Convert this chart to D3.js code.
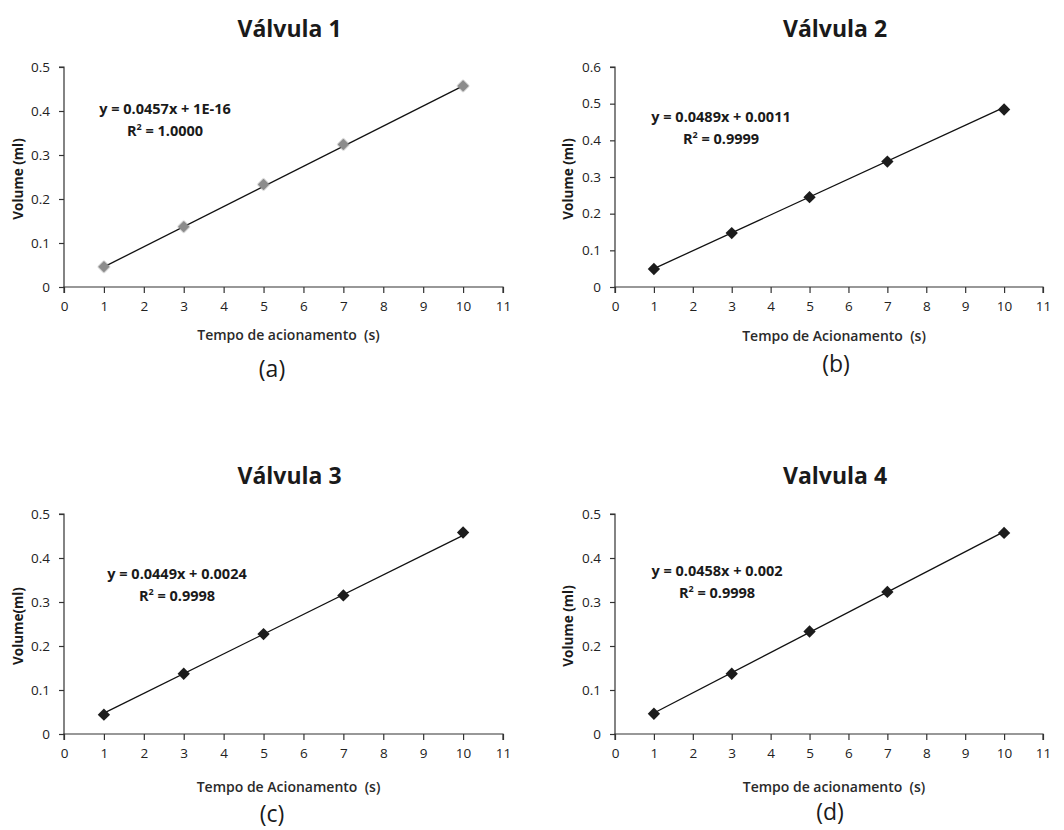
<!DOCTYPE html>
<html>
<head>
<meta charset="utf-8">
<script src="https://cdn.jsdelivr.net/npm/d3@7"></script>
<style>
  html, body { margin: 0; padding: 0; background: #fff; }
  svg { display: block; font-family: "Open Sans", Lato, sans-serif; }
</style>
</head>
<body>
<script>
// Calibration data: actuation time (s) vs dispensed volume (ml) for four valves
const times = [1, 3, 5, 7, 10];
const volume1 = [0.046, 0.137, 0.233, 0.324, 0.457];
const volume2 = [0.049, 0.147, 0.245, 0.342, 0.484];
const volume3 = [0.044, 0.137, 0.227, 0.315, 0.458];
const volume4 = [0.046, 0.137, 0.233, 0.323, 0.457];

const titles = ["Válvula 1", "Válvula 2", "Válvula 3", "Valvula 4"];
const xTitles = ["Tempo de acionamento  (s)", "Tempo de Acionamento  (s)", "Tempo de Acionamento  (s)", "Tempo de acionamento  (s)"];
const yTitles = ["Volume (ml)", "Volume (ml)", "Volume(ml)", "Volume (ml)"];
const tags = ["(a)", "(b)", "(c)", "(d)"];

// Linear trendline coefficients and R² as reported
const slopes = [0.0457, 0.0489, 0.0449, 0.0458];
const intercepts = [1e-16, 0.0011, 0.0024, 0.002];
const equations = ["y = 0.0457x + 1E-16", "y = 0.0489x + 0.0011", "y = 0.0449x + 0.0024", "y = 0.0458x + 0.002"];
const rSquared = ["1.0000", "0.9999", "0.9998", "0.9998"];

const xTicks = [0, 1, 2, 3, 4, 5, 6, 7, 8, 9, 10, 11];
const yMaxima = [0.5, 0.6, 0.5, 0.5];

const volumes = [volume1, volume2, volume3, volume4];
const markerColors = ["#8c8c8c", "#1c1c1c", "#1c1c1c", "#1c1c1c"];

// Panel geometry (plot area and text anchors)
const layout = [
  { left: 64,  right: 503,  top: 67,  bottom: 287, titleY: 37,  eqX: 165, eqY: 114, yTitleX: 18,  xTitleY: 340, tagX: 272, tagY: 377 },
  { left: 615, right: 1043, top: 67,  bottom: 287, titleY: 37,  eqX: 721, eqY: 122, yTitleX: 568, xTitleY: 341, tagX: 836, tagY: 372 },
  { left: 64,  right: 503,  top: 514, bottom: 734, titleY: 484, eqX: 177, eqY: 579, yTitleX: 18,  xTitleY: 792, tagX: 272, tagY: 822 },
  { left: 615, right: 1043, top: 514, bottom: 734, titleY: 484, eqX: 717, eqY: 576, yTitleX: 568, xTitleY: 792, tagX: 830, tagY: 820 }
];

const svg = d3.select("body").append("svg")
  .attr("width", 1064).attr("height", 830);
svg.append("rect").attr("width", 1064).attr("height", 830).attr("fill", "#fff");

const defs = svg.append("defs");
defs.append("filter").attr("id", "soft")
  .append("feGaussianBlur").attr("stdDeviation", 0.6);

layout.forEach((L, i) => {
  const x = d3.scaleLinear().domain([0, 11]).range([L.left, L.right]);
  const y = d3.scaleLinear().domain([0, yMaxima[i]]).range([L.bottom, L.top]);
  const g = svg.append("g");
  const cx = (L.left + L.right) / 2;

  // Title
  g.append("text")
    .attr("x", cx + 6).attr("y", L.titleY)
    .attr("text-anchor", "middle")
    .attr("font-size", 23).attr("font-weight", 700).attr("fill", "#1a1a1a")
    .text(titles[i]);

  // Axes
  const xAxis = d3.axisBottom(x).tickValues(xTicks).tickSize(6).tickPadding(8).tickFormat(d3.format("d"));
  const yAxis = d3.axisLeft(y).ticks(yMaxima[i] * 10).tickSize(5).tickPadding(9)
    .tickFormat(d => d === 0 ? "0" : d3.format(".1f")(d));

  const gx = g.append("g").attr("transform", `translate(0,${L.bottom})`).call(xAxis);
  const gy = g.append("g").attr("transform", `translate(${L.left},0)`).call(yAxis);
  [gx, gy].forEach(a => {
    a.select(".domain").attr("stroke", "#333").attr("stroke-width", 1.2);
    a.selectAll(".tick line").attr("stroke", "#333").attr("stroke-width", 1.2);
    a.selectAll(".tick text").attr("font-size", 13.5).attr("fill", "#222")
      .attr("font-family", "\"Open Sans\", sans-serif");
  });
  gy.select(".domain").attr("d", `M-5,${L.top}H0V${L.bottom}`);
  gx.select(".domain").attr("d", `M${L.left},6V0H${L.right}V6`);

  // Axis titles
  g.append("text")
    .attr("transform", `translate(${L.yTitleX},${(L.top + L.bottom) / 2 + 2}) rotate(-90)`)
    .attr("text-anchor", "middle").attr("dy", "0.35em")
    .attr("font-size", 13.5).attr("font-weight", 700).attr("fill", "#1a1a1a")
    .text(yTitles[i]);

  g.append("text")
    .attr("x", (x(0) + x(11)) / 2 + 5).attr("y", L.xTitleY)
    .attr("text-anchor", "middle")
    .attr("font-size", 14).attr("font-weight", 600).attr("fill", "#2a2a2a")
    .style("white-space", "pre")
    .text(xTitles[i]);

  // Trendline from the fitted coefficients
  const fit = t => slopes[i] * t + intercepts[i];
  const line = d3.line().x(d => x(d)).y(d => y(fit(d)));
  g.append("path")
    .datum([times[0], times[times.length - 1]])
    .attr("d", line)
    .attr("fill", "none").attr("stroke", "#111").attr("stroke-width", 1.3);

  // Measured points
  g.selectAll(".pt").data(times.map((t, k) => [t, volumes[i][k]])).enter()
    .append("path")
    .attr("d", d3.symbol(d3.symbolSquare, 76)())
    .attr("transform", d => `translate(${x(d[0])},${y(d[1])}) rotate(45)`)
    .attr("fill", markerColors[i])
    .attr("filter", i === 0 ? "url(#soft)" : null);

  // Equation and R²
  g.append("text")
    .attr("x", L.eqX).attr("y", L.eqY)
    .attr("text-anchor", "middle")
    .attr("font-size", 14.5).attr("font-weight", 700).attr("fill", "#1a1a1a")
    .text(equations[i]);
  const r2 = g.append("text")
    .attr("x", L.eqX).attr("y", L.eqY + 22)
    .attr("text-anchor", "middle")
    .attr("font-size", 14.5).attr("font-weight", 700).attr("fill", "#1a1a1a");
  r2.append("tspan").text("R");
  r2.append("tspan").attr("dy", -6).attr("font-size", 9).text("2");
  r2.append("tspan").attr("dy", 6).text(" = " + rSquared[i]);

  // Panel tag
  g.append("text")
    .attr("x", L.tagX).attr("y", L.tagY)
    .attr("text-anchor", "middle")
    .attr("font-size", 23).attr("fill", "#1a1a1a")
    .text(tags[i]);
});
</script>
</body>
</html>
